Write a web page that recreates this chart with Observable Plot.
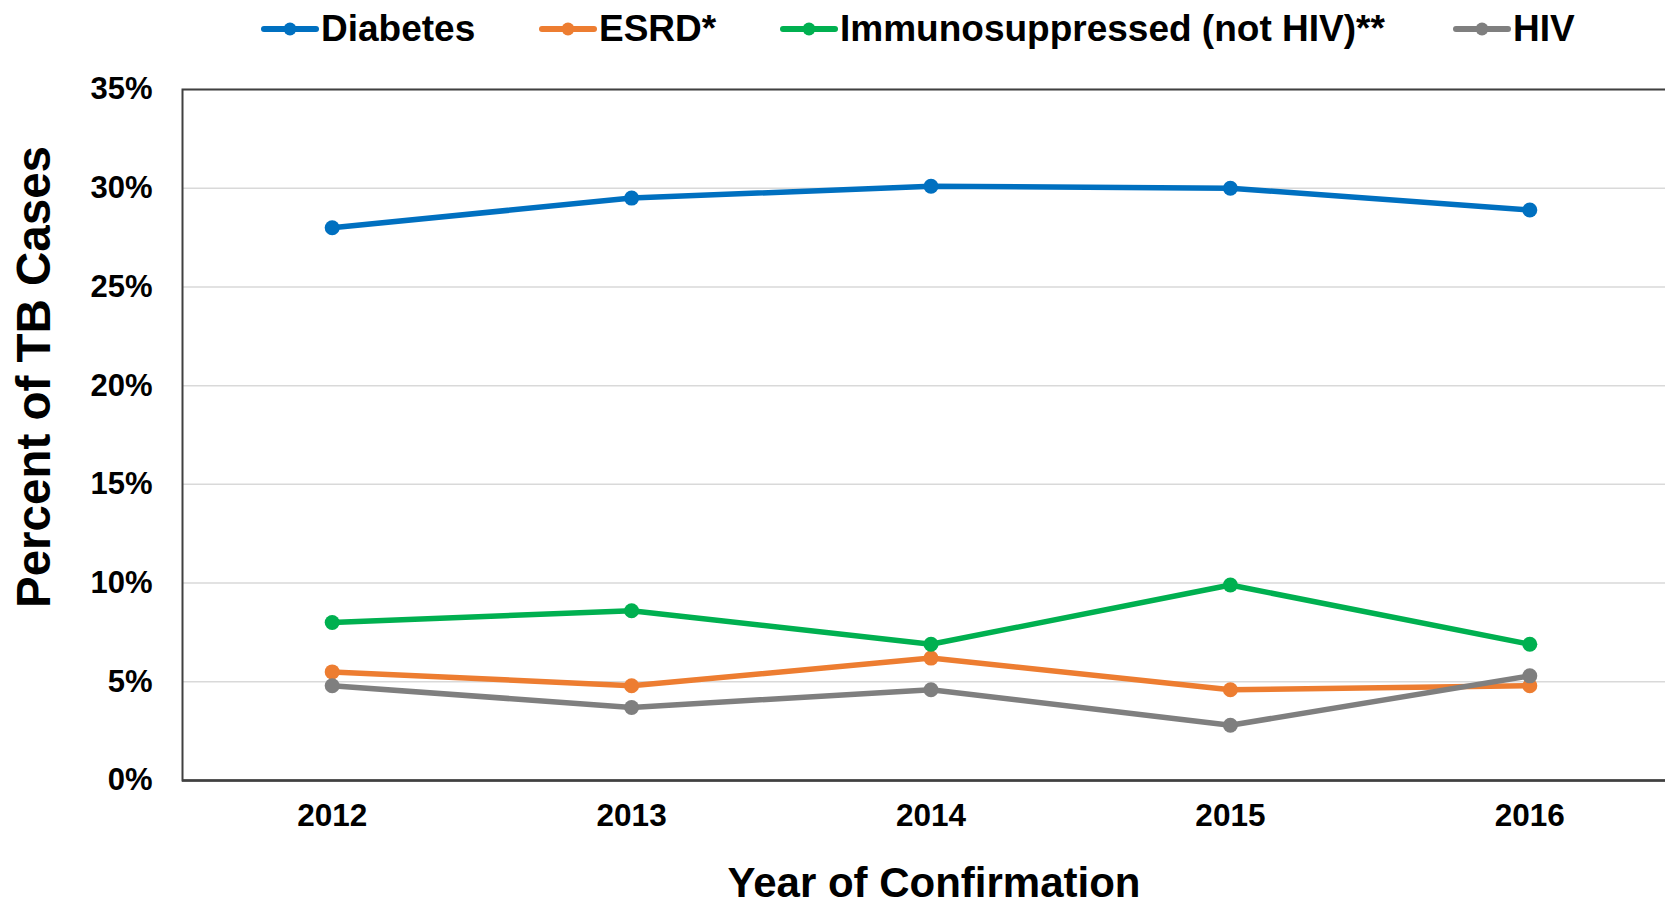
<!DOCTYPE html>
<html>
<head>
<meta charset="utf-8">
<script src="https://cdn.jsdelivr.net/npm/d3@7"></script>
<script src="https://cdn.jsdelivr.net/npm/@observablehq/plot@0.6"></script>
<style>
  html, body { margin: 0; padding: 0; background: #fff; }
  body { width: 1665px; height: 906px; overflow: hidden; font-family: "Liberation Sans", Arial, sans-serif; }
  #legend { position: relative; height: 60px; width: 1665px; }
  .item { position: absolute; top: 0; height: 58px; display: flex; align-items: center; }
  .item svg { display: block; margin-right: 2px; }
  .item span { font-size: 37px; font-weight: bold; color: #000; line-height: 58px; }
  #chart svg { display: block; }
</style>
</head>
<body>
<div id="legend"></div>
<div id="chart"></div>
<script>
const years = [2012, 2013, 2014, 2015, 2016];
const seriesNames = ["Diabetes", "ESRD*", "Immunosuppressed (not HIV)**", "HIV"];
const seriesColors = ["#0070C0", "#ED7D31", "#00B050", "#7F7F7F"];
const diabetes = [28.0, 29.5, 30.1, 30.0, 28.9];
const esrd = [5.5, 4.8, 6.2, 4.6, 4.8];
const immunosuppressed = [8.0, 8.6, 6.9, 9.9, 6.9];
const hiv = [4.8, 3.7, 4.6, 2.8, 5.3];
const yTicks = [0, 5, 10, 15, 20, 25, 30, 35];
const xTitle = "Year of Confirmation";
const yTitle = "Percent of TB Cases";

const seriesValues = [diabetes, esrd, immunosuppressed, hiv];
const rows = seriesNames.flatMap((name, i) =>
  years.map((year, j) => ({series: name, year, value: seriesValues[i][j]}))
);

// Legend (HTML, above the SVG)
const legendLefts = [261, 539, 780, 1453];
const legend = document.getElementById("legend");
seriesNames.forEach((name, i) => {
  const item = document.createElement("div");
  item.className = "item";
  item.style.left = legendLefts[i] + "px";
  item.innerHTML =
    `<svg width="58" height="20"><line x1="3" y1="10" x2="55" y2="10" stroke="${seriesColors[i]}" stroke-width="6" stroke-linecap="round"/>` +
    `<circle cx="29" cy="10" r="6.5" fill="${seriesColors[i]}"/></svg><span>${name}</span>`;
  legend.appendChild(item);
});

const font = "Liberation Sans, Arial, sans-serif";
const chart = Plot.plot({
  width: 1665,
  height: 846,
  marginTop: 29,
  marginBottom: 126,
  marginLeft: 182,
  marginRight: -14,
  style: {fontFamily: font, background: "#fff", overflow: "hidden"},
  x: {domain: [2011.5, 2016.5], type: "linear"},
  y: {domain: [0, 35]},
  color: {domain: seriesNames, range: seriesColors},
  marks: [
    Plot.gridY(yTicks, {stroke: "#d9d9d9", strokeOpacity: 1, strokeWidth: 1.5}),
    Plot.frame({stroke: "#404040", strokeWidth: 2}),
    Plot.ruleY([0], {stroke: "#404040", strokeWidth: 2.5}),
    Plot.axisY(yTicks, {tickSize: 0, tickPadding: 30, fontSize: 31, fontWeight: "bold", fill: "#000", tickFormat: d => d + "%", label: null}),
    Plot.axisX(years, {tickSize: 0, tickPadding: 23, fontSize: 31.5, fontWeight: "bold", fill: "#000", tickFormat: d => String(d), label: null}),
    Plot.line(rows, {x: "year", y: "value", z: "series", stroke: "series", strokeWidth: 5.5, strokeLinejoin: "round"}),
    Plot.dot(rows, {x: "year", y: "value", fill: "series", r: 7.5, stroke: null}),
    Plot.text([xTitle], {frameAnchor: "bottom", lineAnchor: "middle", textAnchor: "middle", dx: 3, dy: 103, fontSize: 42, fontWeight: "bold", fill: "#000", text: d => d}),
    Plot.text([yTitle], {frameAnchor: "left", lineAnchor: "middle", textAnchor: "middle", dx: -148, dy: -58, rotate: -90, fontSize: 47.5, fontWeight: "bold", fill: "#000", text: d => d})
  ]
});
document.getElementById("chart").appendChild(chart);
</script>
</body>
</html>
